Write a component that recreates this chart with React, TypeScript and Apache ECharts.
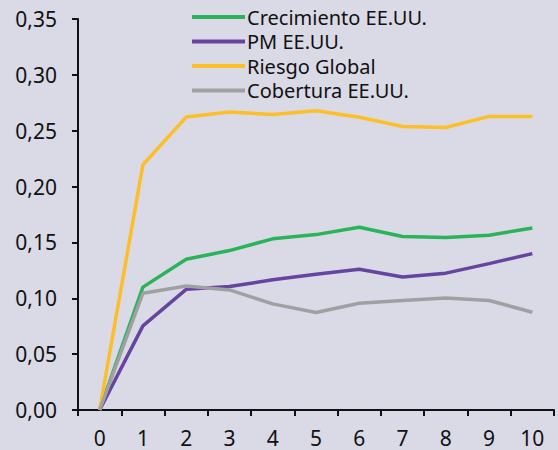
import React, { useEffect, useRef } from "react";
import * as echarts from "echarts";

const categories = ["0", "1", "2", "3", "4", "5", "6", "7", "8", "9", "10"];
const seriesNames = ["Crecimiento EE.UU.", "PM EE.UU.", "Riesgo Global", "Cobertura EE.UU."];
const crecimiento = [0, 0.110, 0.135, 0.1427, 0.1532, 0.157, 0.1636, 0.1553, 0.1544, 0.1565, 0.163];
const pm = [0, 0.0753, 0.108, 0.1105, 0.1165, 0.1216, 0.126, 0.119, 0.1225, 0.131, 0.140];
const riesgo = [0, 0.2195, 0.2622, 0.2667, 0.2646, 0.2679, 0.262, 0.2538, 0.2529, 0.2628, 0.2628];
const cobertura = [0, 0.1045, 0.111, 0.1075, 0.095, 0.0872, 0.0956, 0.098, 0.1003, 0.098, 0.0875];
const colors = ["#2bb35c", "#6545a0", "#fdbf27", "#a0a0a2"];

export default function App() {
  const ref = useRef<HTMLDivElement>(null);
  useEffect(() => {
    if (!ref.current) return;
    const chart = echarts.init(ref.current, null, { renderer: "svg" });
    const datasets = [crecimiento, pm, riesgo, cobertura];
    chart.setOption({
      animation: false,
      backgroundColor: "#dadae6",
      textStyle: { fontFamily: "Noto Sans" },
      grid: { left: 78, right: 4, top: 19, bottom: 40, containLabel: false },
      legend: {
        orient: "vertical",
        left: 187,
        top: 2,
        itemWidth: 53,
        itemHeight: 4,
        itemGap: 4.5,
        icon: "rect",
        data: seriesNames,
        textStyle: { fontSize: 20, color: "#111", fontFamily: "Noto Sans", lineHeight: 20, padding: [0, 0, 0, -3] },
      },
      xAxis: {
        type: "category",
        data: categories,
        boundaryGap: true,
        axisLine: { lineStyle: { color: "#111", width: 2 } },
        axisTick: { show: true, alignWithLabel: false, length: 6, lineStyle: { color: "#111", width: 2 } },
        axisLabel: { fontSize: 21, color: "#111", margin: 17, fontFamily: "Noto Sans" },
        splitLine: { show: false },
      },
      yAxis: {
        type: "value",
        min: 0,
        max: 0.35,
        interval: 0.05,
        axisLine: { show: true, lineStyle: { color: "#111", width: 2 } },
        axisTick: { show: true, length: 6, lineStyle: { color: "#111", width: 2 } },
        axisLabel: {
          fontSize: 21,
          color: "#111",
          margin: 21,
          fontFamily: "Noto Sans",
          formatter: (v: number) => v.toFixed(2).replace(".", ","),
        },
        splitLine: { show: false },
      },
      series: datasets.map((d, i) => ({
        name: seriesNames[i],
        type: "line",
        data: d,
        symbol: "none",
        color: colors[i],
        lineStyle: { width: 3.5, color: colors[i] },
      })),
    });
    return () => chart.dispose();
  }, []);
  return <div ref={ref} style={{ position: "fixed", left: 0, top: 0, width: 558, height: 450 }} />;
}
